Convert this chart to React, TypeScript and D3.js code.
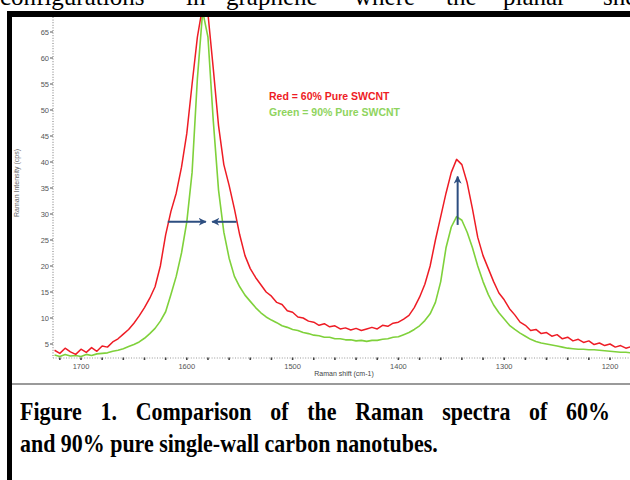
import React, { useEffect, useRef } from "react";
import * as d3 from "d3";

const width = 630;
const height = 480;

// Raman shift (cm-1), read every 5 cm-1
const shift = [
  1725, 1720, 1715, 1710, 1705, 1700, 1695, 1690, 1685, 1680,
  1675, 1670, 1665, 1660, 1655, 1650, 1645, 1640, 1635, 1630,
  1625, 1620, 1615, 1610, 1605, 1600, 1595, 1590, 1585, 1580,
  1575, 1570, 1565, 1560, 1555, 1550, 1545, 1540, 1535, 1530,
  1525, 1520, 1515, 1510, 1505, 1500, 1495, 1490, 1485, 1480,
  1475, 1470, 1465, 1460, 1455, 1450, 1445, 1440, 1435, 1430,
  1425, 1420, 1415, 1410, 1405, 1400, 1395, 1390, 1385, 1380,
  1375, 1370, 1365, 1360, 1355, 1350, 1345, 1340, 1335, 1330,
  1325, 1320, 1315, 1310, 1305, 1300, 1295, 1290, 1285, 1280,
  1275, 1270, 1265, 1260, 1255, 1250, 1245, 1240, 1235, 1230,
  1225, 1220, 1215, 1210, 1205, 1200, 1195, 1190, 1185, 1180,
];

// 60% pure SWCNT (red)
const red60 = [
  3.8, 3.2, 4.2, 3.5, 3.0, 4.0, 3.4, 4.3, 3.6, 4.6,
  4.4, 5.4, 6.0, 6.9, 7.8, 9.0, 10.4, 12.0, 13.8, 16.0,
  20.0, 26.0, 30.5, 34.0, 39.0, 45.5, 55.0, 64.0, 70.0, 68.5,
  58.0, 47.0, 39.5, 35.5, 31.0, 26.0, 22.0, 19.5, 17.8, 16.4,
  15.0, 14.2, 13.0, 12.6, 11.4, 11.1, 10.2, 10.0, 9.4, 9.2,
  8.6, 8.9, 8.3, 8.5, 7.9, 8.1, 7.7, 8.0, 7.6, 7.9,
  8.2, 7.9, 8.6, 8.4, 9.0, 9.2, 9.8, 10.5, 12.0, 14.0,
  16.5, 20.0, 25.0, 29.5, 34.0, 38.0, 40.5, 39.5, 36.0, 31.0,
  25.5, 22.0, 19.5, 17.0, 14.8, 13.5, 11.8, 10.6, 9.2, 8.6,
  7.6, 7.8, 7.0, 7.2, 6.5, 6.8, 6.0, 6.3, 5.6, 5.9,
  5.3, 5.6, 4.9, 5.2, 4.7, 5.0, 4.4, 4.7, 4.2, 4.5,
];

// 90% pure SWCNT (green)
const green90 = [
  2.9, 2.6, 3.0, 2.7, 2.8, 2.6, 3.0, 2.8, 3.1, 3.2,
  3.3, 3.6, 3.8, 4.1, 4.5, 4.9, 5.4, 6.1, 7.0, 8.0,
  9.4, 11.2, 14.5, 18.0, 22.5, 28.5, 38.0, 56.0, 69.0, 64.0,
  48.0, 34.6, 26.5, 21.5, 18.0, 16.0, 14.4, 13.2, 12.0, 11.0,
  10.2, 9.6, 9.1, 8.5, 8.2, 7.8, 7.6, 7.2, 7.0, 6.7,
  6.6, 6.3, 6.3, 6.0, 6.0, 5.8, 5.8, 5.6, 5.7, 5.5,
  5.7, 5.7, 5.9, 6.0, 6.3, 6.4, 6.8, 7.2, 7.8, 8.5,
  9.5, 10.8, 13.0, 17.0, 23.5, 27.5, 29.5, 28.8, 26.5, 23.5,
  20.0, 17.0, 14.5, 12.5, 11.0, 9.8, 8.6, 7.8, 7.1, 6.5,
  5.9, 5.5, 5.2, 5.0, 4.8, 4.6, 4.4, 4.2, 4.1, 4.0,
  4.0, 3.9, 3.9, 3.8, 3.7, 3.6, 3.5, 3.4, 3.4, 3.3,
];

const yTicks = [5, 10, 15, 20, 25, 30, 35, 40, 45, 50, 55, 60, 65];
const xTicks = [1700, 1600, 1500, 1400, 1300, 1200];
const legendLabels = ["Red = 60% Pure SWCNT", "Green = 90% Pure SWCNT"];
const topWords = ["configurations", "in", "graphene", "where", "the", "planar", "shee"];
const captionLines = [
  "Figure 1. Comparison of the Raman spectra of 60%",
  "and 90% pure single-wall carbon nanotubes.",
];

// blue arrows, in data units [shift, intensity]
const arrows = [
  { from: [1618, 28.5], to: [1582, 28.5] },
  { from: [1553, 28.5], to: [1576, 28.5] },
  { from: [1344, 27.9], to: [1344, 37.2] },
];

const RED = "#ee1c25";
const GREEN = "#7fd13b";

function App() {
  const ref = useRef<SVGSVGElement>(null);

  useEffect(() => {
    const svg = d3.select(ref.current);
    svg.selectAll("*").remove();

    const left = 53,
      right = 630,
      top = 17,
      bottom = 358;

    const x = d3.scaleLinear().domain([1700, 1200]).range([81, 610]);
    const y = d3.scaleLinear().domain([5, 65]).range([344, 32]);

    svg.append("rect").attr("width", width).attr("height", height).attr("fill", "#fff");

    // cut-off body text at the top of the page
    const wordX = [0, 186, 226, 354, 446, 503, 603];
    svg
      .append("g")
      .attr("font-family", "'Liberation Serif', 'Times New Roman', serif")
      .attr("font-size", 25)
      .selectAll("text")
      .data(topWords)
      .enter()
      .append("text")
      .attr("x", (d, i) => wordX[i])
      .attr("y", 5)
      .text(d => d);

    // frame
    svg.append("rect").attr("x", 7).attr("y", 11).attr("width", 623).attr("height", 6).attr("fill", "#000");
    svg.append("rect").attr("x", 7).attr("y", 11).attr("width", 5).attr("height", 469).attr("fill", "#000");
    svg.append("rect").attr("x", 12).attr("y", 383).attr("width", 618).attr("height", 2).attr("fill", "#9a9a9a");

    svg
      .append("defs")
      .append("clipPath")
      .attr("id", "plot")
      .append("rect")
      .attr("x", left)
      .attr("y", top)
      .attr("width", right - left)
      .attr("height", bottom - top);

    const axisFont = "'Liberation Sans', Arial, sans-serif";

    // y axis
    svg
      .append("line")
      .attr("x1", left)
      .attr("x2", left)
      .attr("y1", top)
      .attr("y2", bottom)
      .attr("stroke", "#777")
      .attr("stroke-dasharray", "1,1.6");
    const yt = svg.append("g");
    yt.selectAll("line")
      .data(yTicks)
      .enter()
      .append("line")
      .attr("x1", left - 3)
      .attr("x2", left)
      .attr("y1", d => y(d))
      .attr("y2", d => y(d))
      .attr("stroke", "#555");
    yt.selectAll("text")
      .data(yTicks)
      .enter()
      .append("text")
      .attr("x", left - 4)
      .attr("y", d => y(d) + 2.5)
      .attr("text-anchor", "end")
      .attr("font-family", axisFont)
      .attr("font-size", 7.5)
      .attr("fill", "#555")
      .text(d => d);

    svg
      .append("text")
      .attr("transform", "translate(19,183) rotate(-90)")
      .attr("text-anchor", "middle")
      .attr("font-family", axisFont)
      .attr("font-size", 7)
      .attr("fill", "#666")
      .text("Raman Intensity (cps)");

    // x axis
    svg
      .append("line")
      .attr("x1", left)
      .attr("x2", right)
      .attr("y1", bottom)
      .attr("y2", bottom)
      .attr("stroke", "#999")
      .attr("stroke-dasharray", "1,1.6");
    const minor = d3.range(1720, 1179, -20);
    svg
      .append("g")
      .selectAll("rect")
      .data(minor)
      .enter()
      .append("rect")
      .attr("x", d => x(d) - 0.8)
      .attr("y", bottom - 0.5)
      .attr("width", 1.6)
      .attr("height", 2.5)
      .attr("fill", "#444");
    svg
      .append("g")
      .selectAll("text")
      .data(xTicks)
      .enter()
      .append("text")
      .attr("x", d => x(d))
      .attr("y", bottom + 11)
      .attr("text-anchor", "middle")
      .attr("font-family", axisFont)
      .attr("font-size", 7.5)
      .attr("fill", "#555")
      .text(d => d);
    svg
      .append("text")
      .attr("x", 344)
      .attr("y", 376)
      .attr("text-anchor", "middle")
      .attr("font-family", axisFont)
      .attr("font-size", 7)
      .attr("fill", "#444")
      .text("Raman shift (cm-1)");

    // spectra
    const line = d3
      .line<number>()
      .x((d, i) => x(shift[i]))
      .y(d => y(d));
    const plot = svg.append("g").attr("clip-path", "url(#plot)");
    plot
      .append("path")
      .datum(green90)
      .attr("fill", "none")
      .attr("stroke", GREEN)
      .attr("stroke-width", 1.6)
      .attr("stroke-linejoin", "round")
      .attr("d", line);
    plot
      .append("path")
      .datum(red60)
      .attr("fill", "none")
      .attr("stroke", RED)
      .attr("stroke-width", 1.5)
      .attr("stroke-linejoin", "round")
      .attr("d", line);

    // arrows
    svg
      .select("defs")
      .append("marker")
      .attr("id", "head")
      .attr("viewBox", "0 0 10 10")
      .attr("refX", 9)
      .attr("refY", 5)
      .attr("markerWidth", 4)
      .attr("markerHeight", 4)
      .attr("orient", "auto")
      .append("path")
      .attr("d", "M0,0L10,5L0,10L3,5Z")
      .attr("fill", "#2d4e80");
    svg
      .append("g")
      .selectAll("line")
      .data(arrows)
      .enter()
      .append("line")
      .attr("x1", d => x(d.from[0]))
      .attr("y1", d => y(d.from[1]))
      .attr("x2", d => x(d.to[0]))
      .attr("y2", d => y(d.to[1]))
      .attr("stroke", "#2d4e80")
      .attr("stroke-width", 2)
      .attr("marker-end", "url(#head)");

    // legend
    svg
      .append("g")
      .selectAll("text")
      .data(legendLabels)
      .enter()
      .append("text")
      .attr("x", 269)
      .attr("y", (d, i) => 100 + i * 16)
      .attr("font-family", axisFont)
      .attr("font-weight", "bold")
      .attr("font-size", 10.5)
      .attr("fill", (d, i) => (i === 0 ? RED : "#8fd45e"))
      .text(d => d);

    // caption: glyphs a little condensed; first line justified, last line natural
    const colLeft = 20,
      colRight = 610,
      lastLineEnd = 438;
    const cap = svg
      .append("g")
      .attr("font-family", "'Liberation Serif', 'Times New Roman', serif")
      .attr("font-weight", "bold")
      .attr("font-size", 26);
    const last = cap.append("text").attr("x", 0).attr("y", 452).text(captionLines[1]);
    const sx = (lastLineEnd - colLeft) / (last.node() as SVGTextElement).getComputedTextLength();
    cap.attr("transform", `translate(${colLeft},0) scale(${sx},1)`);
    const words = captionLines[0].split(" ");
    const nodes = words.map(w => cap.append("text").attr("y", 420).text(w));
    const widths = nodes.map(n => (n.node() as SVGTextElement).getComputedTextLength());
    const gap = ((colRight - colLeft) / sx - d3.sum(widths)) / (words.length - 1);
    let cx = 0;
    nodes.forEach((n, i) => {
      n.attr("x", cx);
      cx += widths[i] + gap;
    });
  }, []);

  return (
    <svg
      ref={ref}
      width={width}
      height={height}
      style={{ position: "absolute", left: 0, top: 0 }}
    />
  );
}

export default App;
